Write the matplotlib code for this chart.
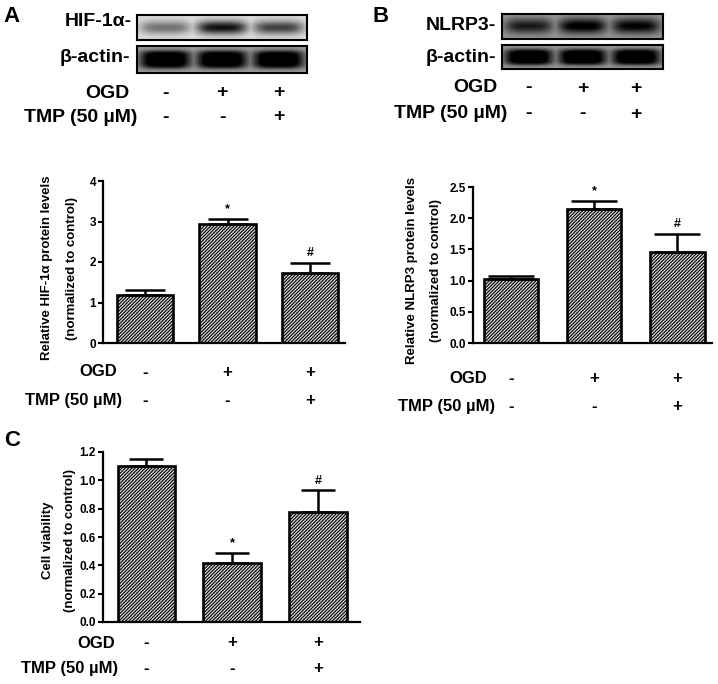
import numpy as np
import matplotlib
matplotlib.use("Agg")
import matplotlib.pyplot as plt
import matplotlib.transforms as mtrans

plt.rcParams['font.family'] = ['Liberation Sans', 'DejaVu Sans']
plt.rcParams['font.weight'] = 'bold'
plt.rcParams['hatch.linewidth'] = 0.8

# ---------------- data ----------------
groups = ["Control", "OGD", "OGD+TMP"]
ogd_row = ["-", "+", "+"]
tmp_row = ["-", "-", "+"]

hif_values = [1.18, 2.95, 1.73]
hif_errors = [0.12, 0.11, 0.25]
hif_marks = ["", "*", "#"]

nlrp3_values = [1.03, 2.15, 1.46]
nlrp3_errors = [0.04, 0.13, 0.29]
nlrp3_marks = ["", "*", "#"]

viab_values = [1.10, 0.42, 0.78]
viab_errors = [0.05, 0.07, 0.15]
viab_marks = ["", "*", "#"]

# western blot band densities (0 = none, 1 = saturated)
hif_bands = [0.45, 0.85, 0.65]
nlrp3_bands = [0.70, 0.90, 0.85]
actin_bands_a = [1.0, 1.0, 1.0]
actin_bands_b = [1.0, 1.0, 1.0]

W, H = 718, 684
fig = plt.figure(figsize=(W / 100, H / 100), dpi=100)


def fx(px):
    return px / W


def fy(py):
    return 1 - py / H


def blot(rect_px, bands, bg, vwidth, sharp, gain):
    x0, y0, x1, y1 = rect_px
    ax = fig.add_axes([fx(x0), fy(y1), (x1 - x0) / W, (y1 - y0) / H])
    xs = np.linspace(-0.5, 2.5, 300)
    ys = np.linspace(0, 1, 60)
    X, Y = np.meshgrid(xs, ys)
    dark = np.zeros_like(X)
    for i, d in enumerate(bands):
        hprof = np.exp(-(np.abs(X - i) / 0.45) ** 4)
        vprof = np.exp(-(np.abs(Y - 0.5) / vwidth) ** sharp)
        dark = np.maximum(dark, d * hprof * vprof)
    img = bg * (1 - np.clip(dark * gain, 0, 1))
    ax.imshow(img, cmap='gray', vmin=0, vmax=1, extent=[-0.5, 2.5, 0, 1],
              aspect='auto', origin='lower', interpolation='bilinear')
    ax.set_xticks([])
    ax.set_yticks([])
    for s in ax.spines.values():
        s.set_linewidth(1.5)
    return ax


def top_rows(ax_blot, right_ogd, y_ogd, right_tmp, y_tmp):
    fig.text(fx(right_ogd), fy(y_ogd), "OGD", ha='right', va='center', fontsize=14, fontweight='bold')
    fig.text(fx(right_tmp), fy(y_tmp), "TMP (50 µM)", ha='right', va='center', fontsize=14, fontweight='bold')
    tr = mtrans.blended_transform_factory(ax_blot.transData, fig.transFigure)
    for i in range(3):
        ax_blot.text(i, fy(y_ogd), ogd_row[i], transform=tr, ha='center', va='center', fontsize=14, fontweight='bold')
        ax_blot.text(i, fy(y_tmp), tmp_row[i], transform=tr, ha='center', va='center', fontsize=14, fontweight='bold')


def bar_panel(rect_px, xlim, values, errors, marks, ymax, yticks, fmt, ylab1, ylab2,
              lab_x1, lab_x2, lab_yc, capsize, ogd_px, tmp_px, width):
    x0, y0, x1, y1 = rect_px
    ax = fig.add_axes([fx(x0), fy(y1), (x1 - x0) / W, (y1 - y0) / H])
    xs = np.arange(len(values))
    ax.bar(xs, values, width=width, color='#d8d8d8', edgecolor='black', linewidth=1.9,
           hatch='/' * 10, zorder=2)
    ax.errorbar(xs, values, yerr=[np.zeros(len(values)), errors], fmt='none', ecolor='black',
                elinewidth=1.8, capsize=capsize, capthick=1.8, zorder=3)
    for i, m in enumerate(marks):
        if m:
            ax.annotate(m, (xs[i], values[i] + errors[i]), xytext=(0, 7), textcoords='offset points',
                        ha='center', va='center', fontsize=9, fontweight='bold')
    ax.set_xlim(*xlim)
    ax.set_ylim(0, ymax)
    ax.set_yticks(yticks)
    ax.set_yticklabels([fmt.format(t) for t in yticks], fontsize=8.5, fontweight='bold')
    ax.set_xticks([])
    for s in ['top', 'right']:
        ax.spines[s].set_visible(False)
    for s in ['left', 'bottom']:
        ax.spines[s].set_linewidth(1.6)
    ax.tick_params(axis='y', length=3.5, width=1.5, pad=1.5)
    fig.text(fx(lab_x1), fy(lab_yc), ylab1, rotation=90, ha='center', va='center',
             fontsize=9.5, fontweight='bold')
    fig.text(fx(lab_x2), fy(lab_yc), ylab2, rotation=90, ha='center', va='center',
             fontsize=9.5, fontweight='bold')
    (ogd_r, ogd_y), (tmp_r, tmp_y) = ogd_px, tmp_px
    fig.text(fx(ogd_r), fy(ogd_y), "OGD", ha='right', va='center', fontsize=12, fontweight='bold')
    fig.text(fx(tmp_r), fy(tmp_y), "TMP (50 µM)", ha='right', va='center', fontsize=12, fontweight='bold')
    tr = mtrans.blended_transform_factory(ax.transData, fig.transFigure)
    for i in range(len(values)):
        ax.text(xs[i], fy(ogd_y), ogd_row[i], transform=tr, ha='center', va='center', fontsize=12, fontweight='bold')
        ax.text(xs[i], fy(tmp_y), tmp_row[i], transform=tr, ha='center', va='center', fontsize=12, fontweight='bold')
    return ax


# ---------------- Panel A ----------------
fig.text(fx(12), fy(17), "A", ha='center', va='center', fontsize=16, fontweight='bold')
axb = blot((137, 15, 307, 40), hif_bands, 0.88, 0.28, 2, 1.1)
blot((137, 46, 307, 73), actin_bands_a, 0.62, 0.34, 4, 1.3)
fig.text(fx(132), fy(22), "HIF-1α-", ha='right', va='center', fontsize=14, fontweight='bold')
fig.text(fx(130), fy(58), "β-actin-", ha='right', va='center', fontsize=14, fontweight='bold')
top_rows(axb, 130, 93, 137, 117)

bar_panel((103, 181, 345, 343), (-0.509, 2.424), hif_values, hif_errors, hif_marks, 4,
          [0, 1, 2, 3, 4], "{:.0f}", "Relative HIF-1α protein levels", "(normalized to control)",
          47, 72, 268, 14.5, (117, 372), (122, 400), 0.68)

# ---------------- Panel B ----------------
fig.text(fx(381), fy(17), "B", ha='center', va='center', fontsize=16, fontweight='bold')
axb2 = blot((502, 14, 663, 39), nlrp3_bands, 0.60, 0.30, 2, 1.2)
blot((502, 45, 663, 69), actin_bands_b, 0.60, 0.34, 4, 1.3)
fig.text(fx(496), fy(26), "NLRP3-", ha='right', va='center', fontsize=14, fontweight='bold')
fig.text(fx(496), fy(57), "β-actin-", ha='right', va='center', fontsize=14, fontweight='bold')
top_rows(axb2, 498, 88, 507, 114)

bar_panel((473, 187, 712, 343), (-0.458, 2.42), nlrp3_values, nlrp3_errors, nlrp3_marks, 2.5,
          [0, 0.5, 1.0, 1.5, 2.0, 2.5], "{:.1f}", "Relative NLRP3 protein levels", "(normalized to control)",
          412, 436, 270, 16.5, (487, 378), (495, 406), 0.66)

# ---------------- Panel C ----------------
fig.text(fx(12), fy(441), "C", ha='center', va='center', fontsize=16, fontweight='bold')
bar_panel((103, 452, 360, 622), (-0.506, 2.49), viab_values, viab_errors, viab_marks, 1.2,
          [0, 0.2, 0.4, 0.6, 0.8, 1.0, 1.2], "{:.1f}", "Cell viability", "(normalized to control)",
          48, 70, 540, 12, (115, 643), (118, 669), 0.67)

fig.savefig("out.png", dpi=100)
